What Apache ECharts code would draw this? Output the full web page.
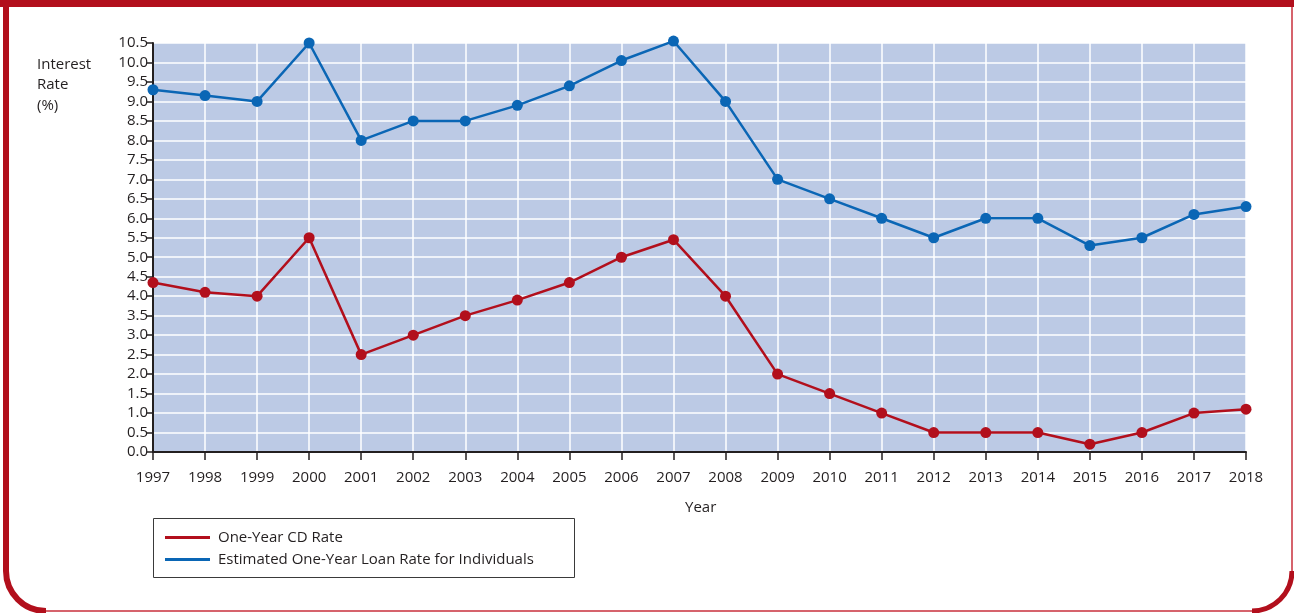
<!DOCTYPE html>
<html>
<head>
<meta charset="utf-8">
<script src="https://cdn.jsdelivr.net/npm/echarts@6/dist/echarts.min.js"></script>
<style>
  html, body { margin: 0; padding: 0; background: #ffffff; }
  #chart { width: 1294px; height: 613px; }
</style>
</head>
<body>
<div id="chart"></div>
<script>
// Years on the horizontal axis
const years = ['1997','1998','1999','2000','2001','2002','2003','2004','2005','2006','2007',
               '2008','2009','2010','2011','2012','2013','2014','2015','2016','2017','2018'];

// One-year certificate of deposit rate (%)
const cdRate = [4.35, 4.1, 4.0, 5.5, 2.5, 3.0, 3.5, 3.9, 4.35, 5.0, 5.45,
                4.0, 2.0, 1.5, 1.0, 0.5, 0.5, 0.5, 0.2, 0.5, 1.0, 1.1];

// Estimated one-year loan rate for individuals (%)
const loanRate = [9.3, 9.15, 9.0, 10.5, 8.0, 8.5, 8.5, 8.9, 9.4, 10.05, 10.55,
                  9.0, 7.0, 6.5, 6.0, 5.5, 6.0, 6.0, 5.3, 5.5, 6.1, 6.3];

const seriesNames = ['One-Year CD Rate', 'Estimated One-Year Loan Rate for Individuals'];

const RED = '#b20f1c';
const BLUE = '#0a66b5';
const TEXT = '#231f20';
const FONT = '"Open Sans", "Noto Sans", sans-serif';
const FS = 15;

const chart = echarts.init(document.getElementById('chart'), null, { renderer: 'canvas' });

chart.setOption({
  backgroundColor: '#ffffff',
  animation: false,
  textStyle: { fontFamily: FONT, color: TEXT },
  grid: {
    left: 153, right: 48, top: 43, bottom: 161,
    show: true, backgroundColor: '#bccae5', borderWidth: 0
  },
  legend: {
    data: seriesNames,
    orient: 'vertical',
    left: 160, top: 525,
    itemGap: 7,
    itemWidth: 45, itemHeight: 3,
    icon: 'rect',
    textStyle: { fontFamily: FONT, fontSize: FS, color: TEXT, padding: [0, 0, 0, 3] }
  },
  xAxis: {
    type: 'category',
    data: years,
    boundaryGap: false,
    axisLine: { show: true, lineStyle: { color: '#231f20', width: 2 } },
    axisTick: { show: true, length: 8, lineStyle: { color: '#231f20', width: 1.5 } },
    axisLabel: { fontFamily: FONT, fontSize: FS, color: TEXT, margin: 18 },
    splitLine: { show: true, lineStyle: { color: '#ffffff', width: 1.5 } }
  },
  yAxis: {
    type: 'value',
    min: 0, max: 10.5, interval: 0.5,
    axisLine: { show: true, lineStyle: { color: '#231f20', width: 2 } },
    axisTick: { show: true, length: 6, lineStyle: { color: '#231f20', width: 1.5 } },
    axisLabel: {
      fontFamily: FONT, fontSize: FS, color: TEXT, margin: 5,
      formatter: v => v.toFixed(1)
    },
    splitLine: { show: true, lineStyle: { color: '#ffffff', width: 1.5 } }
  },
  series: [
    {
      name: seriesNames[0],
      type: 'line',
      data: cdRate,
      clip: false,
      symbol: 'circle', symbolSize: 11,
      lineStyle: { color: RED, width: 2.5 },
      itemStyle: { color: RED },
      z: 3
    },
    {
      name: seriesNames[1],
      type: 'line',
      data: loanRate,
      clip: false,
      symbol: 'circle', symbolSize: 11,
      lineStyle: { color: BLUE, width: 2.5 },
      itemStyle: { color: BLUE },
      z: 3
    }
  ],
  graphic: [
    // outer frame: thin outline with rounded bottom corners
    {
      type: 'rect', silent: true, z: 0,
      shape: { x: 5, y: 2, width: 1287, height: 609, r: [0, 0, 40, 40] },
      style: { fill: null, stroke: '#c9303c', lineWidth: 1.5 }
    },
    // heavy top band
    {
      type: 'rect', silent: true, z: 1,
      shape: { x: 0, y: 0, width: 1294, height: 7 },
      style: { fill: RED }
    },
    // heavy left edge
    {
      type: 'line', silent: true, z: 1,
      shape: { x1: 6, y1: 0, x2: 6, y2: 571 },
      style: { stroke: RED, lineWidth: 6 }
    },
    // heavy bottom-left corner
    {
      type: 'arc', silent: true, z: 1,
      shape: { cx: 46, cy: 571, r: 40, startAngle: Math.PI / 2, endAngle: Math.PI, clockwise: true },
      style: { fill: null, stroke: RED, lineWidth: 6 }
    },
    // heavy bottom-right corner
    {
      type: 'arc', silent: true, z: 1,
      shape: { cx: 1252, cy: 571, r: 40, startAngle: 0, endAngle: Math.PI / 2, clockwise: true },
      style: { fill: null, stroke: RED, lineWidth: 5 }
    },
    // y-axis title
    {
      type: 'text', left: 37, top: 54, silent: true,
      style: {
        text: 'Interest\nRate\n(%)', fontFamily: FONT, fontSize: FS,
        fill: TEXT, lineHeight: 20.5
      }
    },
    // x-axis title
    {
      type: 'text', left: 685, top: 500, silent: true,
      style: { text: 'Year', fontFamily: FONT, fontSize: FS, fill: TEXT }
    },
    // legend frame
    {
      type: 'rect', silent: true, z: 0,
      shape: { x: 153.5, y: 518.5, width: 421, height: 59 },
      style: { fill: null, stroke: '#3a3a3a', lineWidth: 1 }
    }
  ]
});
</script>
</body>
</html>
